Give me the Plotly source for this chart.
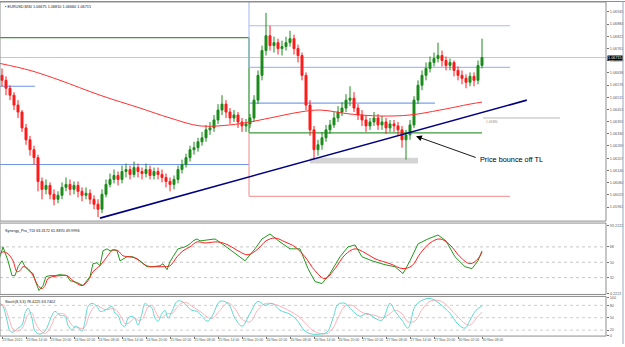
import plotly.graph_objects as go

# ---------------- price data (EURUSD, one value per bar) ----------------
first_open = 1.06625
close = [1.06600,1.06560,1.06525,1.06475,1.06440,1.06360,1.06300,1.06250,1.06210,1.06090,
 1.06050,1.06070,1.06025,1.06000,1.06020,1.06060,1.06075,1.06050,1.06070,1.06040,
 1.06020,1.06030,1.06000,1.05975,1.05950,1.06025,1.06075,1.06100,1.06120,1.06100,
 1.06140,1.06150,1.06125,1.06160,1.06140,1.06130,1.06150,1.06120,1.06140,1.06125,
 1.06110,1.06090,1.06075,1.06100,1.06150,1.06175,1.06210,1.06250,1.06260,1.06290,
 1.06310,1.06350,1.06360,1.06400,1.06450,1.06480,1.06440,1.06410,1.06425,1.06390,
 1.06370,1.06380,1.06410,1.06500,1.06625,1.06750,1.06825,1.06775,1.06790,1.06760,
 1.06770,1.06790,1.06810,1.06760,1.06725,1.06625,1.06475,1.06350,1.06250,1.06275,
 1.06310,1.06350,1.06375,1.06410,1.06440,1.06460,1.06500,1.06510,1.06460,1.06425,
 1.06400,1.06370,1.06390,1.06410,1.06375,1.06390,1.06360,1.06380,1.06370,1.06350,
 1.06300,1.06325,1.06375,1.06500,1.06575,1.06625,1.06660,1.06690,1.06710,1.06725,
 1.06700,1.06675,1.06690,1.06650,1.06625,1.06610,1.06590,1.06620,1.06600,1.06675,
 1.06715]
high = [1.06660,1.06620,1.06575,1.06540,1.06500,1.06450,1.06380,1.06320,1.06270,1.06225,
 1.06110,1.06100,1.06085,1.06050,1.06040,1.06085,1.06110,1.06100,1.06090,1.06090,
 1.06060,1.06060,1.06050,1.06020,1.06000,1.06050,1.06100,1.06130,1.06150,1.06140,
 1.06170,1.06180,1.06170,1.06190,1.06180,1.06160,1.06180,1.06170,1.06160,1.06160,
 1.06150,1.06130,1.06110,1.06120,1.06170,1.06200,1.06230,1.06270,1.06290,1.06310,
 1.06340,1.06375,1.06390,1.06425,1.06480,1.06525,1.06500,1.06460,1.06450,1.06440,
 1.06410,1.06405,1.06430,1.06525,1.06650,1.06775,1.06940,1.06875,1.06820,1.06810,
 1.06800,1.06820,1.06850,1.06830,1.06780,1.06740,1.06640,1.06500,1.06370,1.06300,
 1.06340,1.06375,1.06400,1.06440,1.06470,1.06490,1.06530,1.06570,1.06540,1.06480,
 1.06450,1.06420,1.06410,1.06440,1.06430,1.06420,1.06410,1.06400,1.06400,1.06390,
 1.06370,1.06350,1.06400,1.06520,1.06600,1.06650,1.06690,1.06720,1.06740,1.06790,
 1.06750,1.06720,1.06710,1.06700,1.06670,1.06650,1.06630,1.06640,1.06640,1.06700,
 1.06810]
low = [1.06570,1.06525,1.06500,1.06450,1.06410,1.06340,1.06275,1.06220,1.06175,1.06040,
 1.06000,1.06025,1.06000,1.05970,1.05980,1.06000,1.06040,1.06020,1.06025,1.06010,
 1.05990,1.06000,1.05975,1.05950,1.05910,1.05930,1.06010,1.06060,1.06080,1.06070,
 1.06080,1.06110,1.06100,1.06110,1.06110,1.06100,1.06110,1.06100,1.06100,1.06100,
 1.06085,1.06060,1.06040,1.06050,1.06080,1.06130,1.06160,1.06190,1.06225,1.06240,
 1.06270,1.06290,1.06325,1.06340,1.06380,1.06425,1.06410,1.06380,1.06390,1.06360,
 1.06340,1.06340,1.06360,1.06390,1.06480,1.06600,1.06725,1.06750,1.06740,1.06730,
 1.06725,1.06750,1.06770,1.06730,1.06690,1.06600,1.06450,1.06320,1.06200,1.06220,
 1.06250,1.06290,1.06330,1.06360,1.06390,1.06420,1.06440,1.06470,1.06440,1.06400,
 1.06370,1.06340,1.06350,1.06370,1.06350,1.06350,1.06330,1.06340,1.06340,1.06320,
 1.06260,1.06200,1.06300,1.06360,1.06480,1.06550,1.06600,1.06640,1.06670,1.06690,
 1.06670,1.06650,1.06650,1.06620,1.06600,1.06580,1.06560,1.06570,1.06570,1.06580,
 1.06660]
open_ = [first_open] + close[:-1]
bars = list(range(len(close)))

# moving average (red curve)
ma_bar = [-0.5, 7, 14.5, 24.5, 34.5, 42, 49.5, 57, 62, 67, 74.5, 79.5, 87, 94.5, 102, 109.5, 117, 120]
ma_val = [1.06685, 1.06650, 1.06600, 1.06525, 1.06460, 1.06410, 1.06370, 1.06375, 1.06390,
          1.06410, 1.06440, 1.06450, 1.06430, 1.06420, 1.06425, 1.06450, 1.06480, 1.06490]

# horizontal levels
level_switch_bar = 61.75
green_left, green_right = 1.06815, 1.06335
blue_left_hi, blue_left_lo = 1.06570, 1.06175
blue_right_top, blue_right_mid, blue_right_low = 1.06875, 1.06665, 1.06485
red_right = 1.06015
bid_price = 1.06715
trend_bar = [24.5, 131.2]
trend_val = [1.05905, 1.06500]
zone_bar = [77, 104]
zone_val = [1.06180, 1.06210]
hline_label_val = 1.06410

price_ticks = [1.06945, 1.06884, 1.06822, 1.06761, 1.06699, 1.06638, 1.06576, 1.06515, 1.06453,
               1.06392, 1.06330, 1.06269, 1.06207, 1.06146, 1.06084, 1.06023, 1.05961]

# ---------------- TDI ----------------
tdi_g_bar = [-0.5,0.25,1.5,2.5,3.25,4,5,5.75,7,7.75,8.75,9.25,10.25,11,12,13.25,14.5,16.25,17,18.75,
             20.25,22,22.75,23.75,24.5,25.25,26.25,27,27.75,28.75,29.5,31.25,32.75,34.5,36.25,37.75,
             39.5,40.25,41.25,42,42.75,44,45.75,47,47.75,48.75,49.5,53.25,55.75,58.25,60.75,63.25,65,
             67,69.5,72,74.5,76.5,78.25,80,82,84.5,86.5,88.25,90,92.5,95.75,98.25,100.25,102,104,
             106.5,109,111,113.25,115.75,117.5,119,120]
tdi_g_val = [56.4,68.0,51.7,34.3,34.3,44.8,51.7,44.8,39.0,36.7,22.7,16.9,22.7,33.2,34.3,34.3,35.5,34.3,
             28.5,26.2,22.7,33.2,48.3,49.4,45.9,63.4,65.7,63.4,64.5,63.4,51.7,56.4,56.4,51.7,44.8,44.8,
             45.9,48.3,41.3,50.6,56.4,65.7,68.0,71.5,75.0,77.3,75.0,77.3,69.2,59.9,51.7,65.7,77.3,
             83.1,73.8,65.7,65.7,42.5,27.4,25.0,36.7,56.4,68.0,70.3,56.4,51.7,47.1,44.8,36.7,51.7,
             71.5,77.3,81.9,75.0,56.4,44.8,42.5,51.7,63.3]
tdi_r_bar = [-0.5,0.25,1.5,2.75,3.75,4.5,5.25,6.5,7.75,9,10,10.75,11.5,12.75,14.5,16.25,17.75,20,21.5,
             22.75,24.5,26.25,27.75,29,30.25,32,33.75,35.25,37,38.75,40.25,42,43.75,45.25,47,48.75,
             50.75,54,56.5,59,61.5,64,66,68.25,70.75,73.25,75.75,78.25,80.75,83.25,85.75,88.25,90.75,
             93.25,97,100.25,102.5,104.5,107,109.5,112,114.5,117,119,120]
tdi_r_val = [59.9,62.2,59.9,51.7,39.0,40.1,44.8,42.5,34.3,22.7,19.2,22.7,30.8,33.2,34.3,34.3,28.5,22.7,
             28.5,39.0,45.9,56.4,64.5,63.4,57.6,56.4,54.1,48.3,44.8,44.8,44.8,45.9,56.4,63.4,68.0,73.8,
             72.6,73.8,70.3,63.4,58.7,65.7,75.0,78.4,73.8,68.0,56.4,40.1,30.8,42.5,58.7,65.7,61.0,
             54.1,48.3,42.5,45.9,59.9,72.6,77.3,70.3,56.4,48.3,54.1,61.9]
tdi_levels = [68, 50, 32]

# ---------------- Stochastic ----------------
st_bar = [-0.5,0.25,1.25,2,2.75,4,5,5.75,6.5,7.5,8.25,9.5,10.75,11.5,12.5,13.25,14.5,15.75,16.5,17.5,
          18.25,19,20,20.75,21.5,22.5,23.75,24.5,25.75,26.5,27.5,28.25,29,30,30.75,31.5,32.5,33.25,34,
          35,35.75,36.5,37.5,38.25,39,40,40.75,41.5,42.5,43.75,45,46.25,47.5,48.75,50,51.25,52.5,54.5,
          56.5,58.25,60,62,64,65.75,67.5,69.5,72,73.75,75.75,77.5,79.5,81.25,82.75,84,85.75,87.5,
          89.5,91.25,93.25,95,97,98.25,100,101.5,103.25,105,107,109,110.75,112,114,115.75,117,118.5,120]
st_main = [84.8,77.6,44.0,17.6,15.2,24.8,32.0,60.8,72.8,48.8,17.6,10.4,17.6,32.0,56.0,65.6,56.0,53.6,
           32.0,20.0,29.6,27.2,17.6,41.6,77.6,84.8,77.6,65.6,68.0,72.8,77.6,60.8,56.0,32.0,29.6,48.8,
           53.6,48.8,32.0,60.8,84.8,80.0,72.8,48.8,41.6,60.8,68.0,48.8,65.6,89.6,89.6,77.6,68.0,65.6,
           53.6,41.6,53.6,89.6,84.8,48.8,29.6,60.8,89.6,80.0,84.8,68.0,58.4,44.0,17.6,10.4,10.4,15.2,
           48.8,82.4,84.8,68.0,53.6,60.8,48.8,44.0,84.8,65.6,44.0,24.8,77.6,92.0,96.8,87.2,72.8,60.8,
           34.4,24.8,44.0,68.0,78.4]
st_signal = [80,82,62,40,22,18,24,40,58,62,40,20,12,18,35,52,60,58,46,32,26,26,24,28,48,70,80,76,70,70,
             72,70,64,48,36,36,44,50,44,46,60,76,80,68,54,50,56,60,60,75,86,86,78,70,62,52,48,68,86,72,
             46,40,70,84,84,78,66,56,38,20,12,12,25,50,78,80,66,58,56,50,60,68,60,40,42,70,90,92,84,72,
             52,36,32,48,63.7]
st_levels = [80, 50, 20]

time_tick_bar = [0, 6, 12, 18, 24, 30, 36, 42, 48, 54, 60, 66, 72, 78, 84, 90, 96, 102, 108, 114, 120]
time_tick_text = ["23 Nov 2015", "23 Nov 14:00", "23 Nov 20:00", "24 Nov 02:00", "24 Nov 08:00",
                  "24 Nov 14:00", "24 Nov 20:00", "25 Nov 02:00", "25 Nov 08:00", "25 Nov 14:00",
                  "25 Nov 20:00", "26 Nov 02:00", "26 Nov 08:00", "26 Nov 14:00", "26 Nov 20:00",
                  "27 Nov 02:00", "27 Nov 08:00", "27 Nov 14:00", "27 Nov 20:00", "30 Nov 02:00",
                  "30 Nov 08:00"]

# ---------------- layout geometry ----------------
W, H = 625, 347
def py(px):
    return 1 - px / H
XD = [0, 606 / W]
MAIN_D = [py(222), py(1)]
TDI_D = [py(296), py(224)]
ST_D = [py(338), py(298)]
XR = [-0.5, 151]

FONT = "Liberation Sans, Arial, sans-serif"
SMALL = 3.8
GRAY = "#606060"

fig = go.Figure()

fig.add_trace(go.Candlestick(
    x=bars, open=open_, high=high, low=low, close=close,
    increasing=dict(line=dict(color="#1a8a1a", width=1), fillcolor="#1a8a1a"),
    decreasing=dict(line=dict(color="#ff1a1a", width=1), fillcolor="#ff1a1a"),
    whiskerwidth=0, xaxis="x", yaxis="y", showlegend=False, hoverinfo="skip"))

fig.add_trace(go.Scatter(x=ma_bar, y=ma_val, mode="lines", line=dict(color="#ff3030", width=1, shape="spline"),
                         xaxis="x", yaxis="y", showlegend=False, hoverinfo="skip"))
fig.add_trace(go.Scatter(x=trend_bar, y=trend_val, mode="lines", line=dict(color="#000080", width=1.6),
                         xaxis="x", yaxis="y", showlegend=False, hoverinfo="skip"))

fig.add_trace(go.Scatter(x=tdi_g_bar, y=tdi_g_val, mode="lines", line=dict(color="#1f9a1f", width=1),
                         xaxis="x2", yaxis="y2", showlegend=False, hoverinfo="skip"))
fig.add_trace(go.Scatter(x=tdi_r_bar, y=tdi_r_val, mode="lines", line=dict(color="#ff2020", width=1, shape="spline"),
                         xaxis="x2", yaxis="y2", showlegend=False, hoverinfo="skip"))

fig.add_trace(go.Scatter(x=st_bar, y=st_signal, mode="lines", line=dict(color="#ffb0b8", width=1, shape="spline"),
                         xaxis="x3", yaxis="y3", showlegend=False, hoverinfo="skip"))
fig.add_trace(go.Scatter(x=st_bar, y=st_main, mode="lines", line=dict(color="#5ed8d0", width=1, shape="spline"),
                         xaxis="x3", yaxis="y3", showlegend=False, hoverinfo="skip"))

shapes = []
def seg(x0, x1, y0, y1, color, width=1, dash="solid", xr="x", yr="y"):
    shapes.append(dict(type="line", xref=xr, yref=yr, x0=x0, x1=x1, y0=y0, y1=y1,
                       line=dict(color=color, width=width, dash=dash), layer="below"))

# levels
seg(XR[0], XR[1], bid_price, bid_price, "#c8c8c8")
seg(XR[0], level_switch_bar, green_left, green_left, "#3c9a3c", 1.3)
seg(level_switch_bar, level_switch_bar, green_left, green_right, "#3c9a3c", 1.3)
seg(level_switch_bar, 120, green_right, green_right, "#3c9a3c", 1.3)
seg(XR[0], 8.25, blue_left_hi, blue_left_hi, "#6f95ee", 1.1)
seg(XR[0], level_switch_bar, blue_left_lo, blue_left_lo, "#6f95ee", 1.1)
seg(level_switch_bar, level_switch_bar, blue_right_mid, 1.07, "#a8bdf2", 1.1)
seg(level_switch_bar, 127, blue_right_top, blue_right_top, "#a8bdf2", 1.1)
seg(level_switch_bar, 127, blue_right_mid, blue_right_mid, "#a8bdf2", 1.1)
seg(level_switch_bar, 108.25, blue_right_low, blue_right_low, "#7b9ff0", 1.1)
seg(level_switch_bar, level_switch_bar, green_right, red_right, "#f08a8a", 1)
seg(level_switch_bar, 127, red_right, red_right, "#f08a8a", 1)
seg(120.25, 139.5, hline_label_val, hline_label_val, "#b8b8b8", 1)
shapes.append(dict(type="rect", xref="x", yref="y", x0=zone_bar[0], x1=zone_bar[1], y0=zone_val[0], y1=zone_val[1],
                   fillcolor="#d4d4d4", line=dict(width=0), layer="below"))

for lv in tdi_levels:
    seg(0, 1, lv, lv, "#b8b8b8", 0.8, "dot", xr="x2 domain", yr="y2")
for lv in st_levels:
    seg(0, 1, lv, lv, "#c0c0c0", 0.8, "dot", xr="x3 domain", yr="y3")

# pane frames
for d in (MAIN_D, TDI_D, ST_D):
    shapes.append(dict(type="rect", xref="paper", yref="paper", x0=XD[0], x1=XD[1], y0=d[0], y1=d[1],
                       line=dict(color="#8c8c8c", width=1), fillcolor="rgba(0,0,0,0)"))
shapes.append(dict(type="line", xref="paper", yref="paper", x0=0, x1=1, y0=py(0.5), y1=py(0.5),
                   line=dict(color="#8c8c8c", width=1)))
shapes.append(dict(type="line", xref="paper", yref="paper", x0=623 / W, x1=623 / W, y0=py(346), y1=py(0),
                   line=dict(color="#9aa8c0", width=1)))

annotations = [
    dict(xref="paper", yref="paper", x=0.004, y=py(2), xanchor="left", yanchor="top", showarrow=False,
         text="\u25aa EURUSD,M30 1.06675 1.06810 1.06660 1.06715", font=dict(size=SMALL, color="#202020", family=FONT)),
    dict(xref="paper", yref="paper", x=0.004, y=py(228), xanchor="left", yanchor="top", showarrow=False,
         text="Synergy_Pro_TDI 63.3172 61.8870 49.9996", font=dict(size=SMALL, color="#202020", family=FONT)),
    dict(xref="paper", yref="paper", x=0.004, y=py(300), xanchor="left", yanchor="top", showarrow=False,
         text="Stoch(8,3,3) 78.4225 63.7402", font=dict(size=SMALL, color="#202020", family=FONT)),
    dict(xref="paper", yref="y", x=XD[1] + 0.002, y=bid_price, xanchor="left", yanchor="middle", showarrow=False,
         text="1.06715", bgcolor="#000000", borderpad=0, font=dict(size=SMALL, color="#ffffff", family=FONT)),
    dict(xref="x", yref="y", x=103.5, y=1.06318, ax=118.8, ay=1.06208, axref="x", ayref="y",
         text="", showarrow=True, arrowhead=2, arrowsize=1.3, arrowwidth=0.9, arrowcolor="#000000"),
    dict(xref="x", yref="y", x=119.1, y=1.06200, xanchor="left", yanchor="middle", showarrow=False,
         text="Price bounce off TL", font=dict(size=7.3, color="#000000", family=FONT)),
    dict(xref="x", yref="y", x=120.5, y=hline_label_val, xanchor="left", yanchor="top", showarrow=False,
         text="1.06380", font=dict(size=3.2, color="#909090", family=FONT)),
]

ax_common = dict(showgrid=False, zeroline=False, showline=False, range=XR, domain=XD, fixedrange=True)
yax_common = dict(showgrid=False, zeroline=False, side="right", showline=False, ticks="outside", ticklen=2,
                  tickcolor="#707070", tickfont=dict(size=SMALL, color=GRAY, family=FONT), fixedrange=True)

fig.update_layout(
    width=W, height=H, margin=dict(l=0, r=0, t=0, b=0),
    paper_bgcolor="white", plot_bgcolor="white", showlegend=False,
    xaxis=dict(**ax_common, anchor="y", showticklabels=False, ticks="", rangeslider=dict(visible=False)),
    xaxis2=dict(**ax_common, anchor="y2", showticklabels=False, ticks=""),
    xaxis3=dict(**ax_common, anchor="y3", tickmode="array", tickvals=time_tick_bar, ticktext=time_tick_text,
                ticks="outside", ticklen=2, tickcolor="#707070", ticklabelposition="outside right",
                tickangle=0, tickfont=dict(size=3.5, color=GRAY, family=FONT)),
    yaxis=dict(**yax_common, anchor="x", domain=MAIN_D, range=[1.0589, 1.06995],
               tickmode="array", tickvals=price_ticks, ticktext=[f"{v:.5f}" for v in price_ticks]),
    yaxis2=dict(**yax_common, anchor="x2", domain=TDI_D, range=[12.3, 95.9],
                tickmode="array", tickvals=[92.5, 68, 50, 32, 13.5], ticktext=["93.2222", "68", "50", "32", "4.2222"]),
    yaxis3=dict(**yax_common, anchor="x3", domain=ST_D, range=[5.6, 101.6],
                tickmode="array", tickvals=[99, 80, 50, 20, 7], ticktext=["100", "80", "50", "20", "0"]),
    shapes=shapes, annotations=annotations,
)

fig.write_html("out.html")
